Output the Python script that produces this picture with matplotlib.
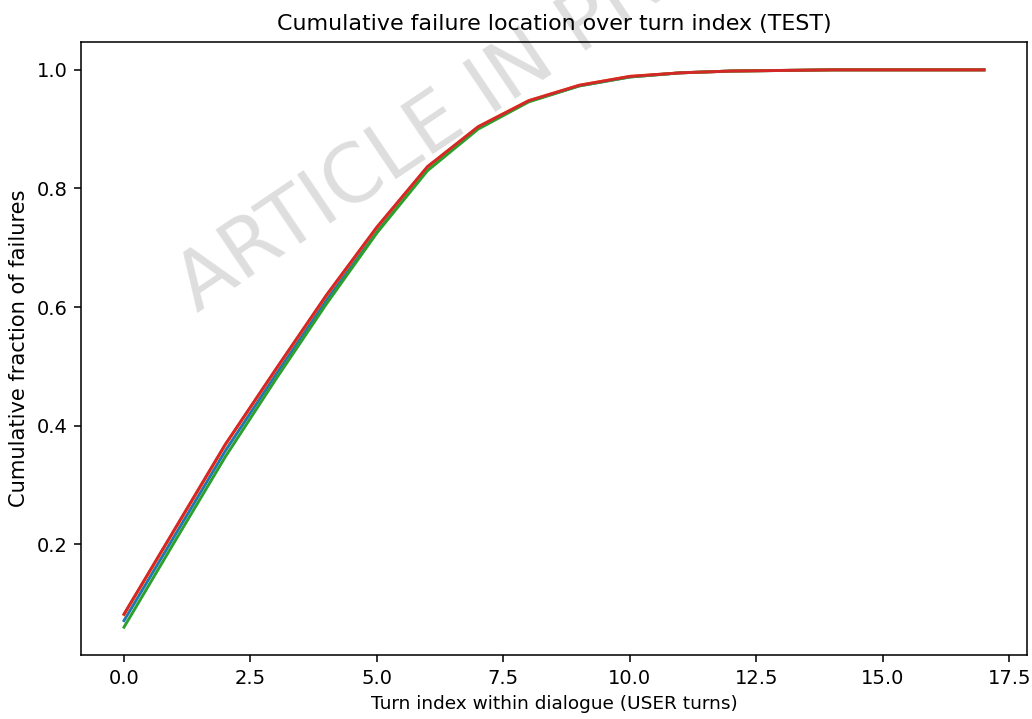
import matplotlib
import matplotlib.pyplot as plt

matplotlib.use('Agg')

# turn index within dialogue
turns = list(range(18))

# cumulative fraction of failures, one list per series
series_blue = [0.071, 0.214, 0.357, 0.486, 0.612, 0.730, 0.833, 0.902, 0.947,
               0.973, 0.988, 0.995, 0.998, 0.999, 1.0, 1.0, 1.0, 1.0]
series_orange = [0.081, 0.224, 0.367, 0.494, 0.619, 0.734, 0.836, 0.904, 0.948,
                 0.974, 0.989, 0.995, 0.998, 0.999, 1.0, 1.0, 1.0, 1.0]
series_green = [0.060, 0.204, 0.347, 0.478, 0.605, 0.725, 0.830, 0.900, 0.946,
                0.973, 0.988, 0.995, 0.998, 0.999, 1.0, 1.0, 1.0, 1.0]
series_red = [0.082, 0.225, 0.368, 0.495, 0.620, 0.735, 0.837, 0.904, 0.948,
              0.974, 0.989, 0.995, 0.998, 0.999, 1.0, 1.0, 1.0, 1.0]

DPI = 140
fig = plt.figure(figsize=(1032 / DPI, 719 / DPI), dpi=DPI)
ax = fig.add_axes([81 / 1032, 1 - 655 / 719, (1027 - 81) / 1032, (655 - 42) / 719])
ax.set_facecolor('none')  # let the watermark show through behind the lines

ax.plot(turns, series_blue, color='C0')
ax.plot(turns, series_orange, color='C1')
ax.plot(turns, series_green, color='C2')
ax.plot(turns, series_red, color='C3')

# the source image is a bit squeezed sideways, so horizontal texts run smaller
ax.set_title('Cumulative failure location over turn index (TEST)', fontsize=11.4)
ax.set_xlabel('Turn index within dialogue (USER turns)', fontsize=9.5)
ax.set_ylabel('Cumulative fraction of failures', fontsize=10.8)

# watermark from the source page, behind everything
fig.text(197 / 1032, 1 - 313 / 719, 'ARTICLE IN PRESS', fontsize=41, color='#dedede',
         rotation=34, rotation_mode='anchor', ha='left', va='baseline', zorder=-1)

fig.savefig('out.png', dpi=DPI)
